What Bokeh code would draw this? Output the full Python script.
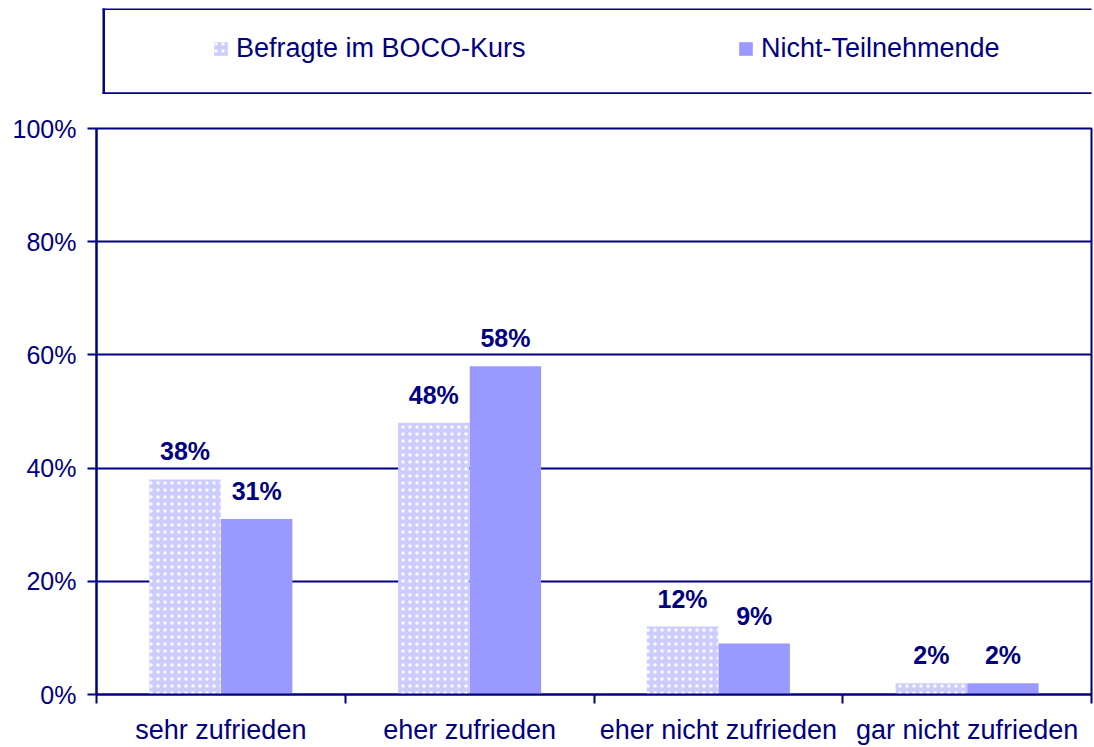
from bokeh.plotting import figure
from bokeh.models import (Range1d, FixedTicker, PrintfTickFormatter, ColumnDataSource,
                          LabelSet, Legend, LegendItem, BoxAnnotation)
from bokeh.core.properties import value
from bokeh.layouts import column
from bokeh.embed import file_html
from bokeh.resources import INLINE

categories = ["sehr zufrieden", "eher zufrieden", "eher nicht zufrieden", "gar nicht zufrieden"]
series_names = ["Befragte im BOCO-Kurs", "Nicht-Teilnehmende"]
boco = [38, 48, 12, 2]
nicht = [31, 58, 9, 2]
y_ticks = [0, 20, 40, 60, 80, 100]

NAVY = "#000080"
LIGHT = "#CCCCFF"
DARK = "#9999FF"
FONT = "Liberation Sans"

centers = [i + 0.5 for i in range(len(categories))]
dodge = 0.144
bw = 0.287

src1 = ColumnDataSource(dict(x=[c - dodge for c in centers], top=boco, lab=[f"{v}%" for v in boco]))
src2 = ColumnDataSource(dict(x=[c + dodge for c in centers], top=nicht, lab=[f"{v}%" for v in nicht]))

HATCH = dict(hatch_pattern="dot", hatch_color="white", hatch_scale=7, hatch_weight=1.2, hatch_alpha=0.9)

p = figure(width=1094, height=653, x_range=Range1d(0, len(categories)), y_range=Range1d(0, 100),
           output_backend="svg", toolbar_location=None,
           min_border_top=34, min_border_bottom=53, min_border_left=96, min_border_right=3)
p.background_fill_color = "white"
p.border_fill_color = "white"
p.outline_line_color = NAVY
p.outline_line_width = 2

p.vbar(x="x", top="top", width=bw, source=src1, fill_color=LIGHT, line_color=None, **HATCH)
p.vbar(x="x", top="top", width=bw, source=src2, fill_color=DARK, line_color=None)

for s in (src1, src2):
    p.add_layout(LabelSet(x="x", y="top", text="lab", source=s, y_offset=19,
                          text_align="center", text_baseline="alphabetic",
                          text_font=value(FONT), text_font_size="25px", text_font_style="bold",
                          text_color=NAVY))

p.xgrid.visible = False
p.ygrid.ticker = FixedTicker(ticks=y_ticks)
p.ygrid.grid_line_color = NAVY
p.ygrid.grid_line_width = 2

xa = p.xaxis[0]
xa.ticker = FixedTicker(ticks=centers, minor_ticks=list(range(len(categories) + 1)))
xa.major_label_overrides = {c: cat for c, cat in zip(centers, categories)}
xa.major_tick_line_color = None
xa.major_tick_out = 0
xa.major_tick_in = 0
xa.minor_tick_line_color = NAVY
xa.minor_tick_line_width = 2
xa.minor_tick_out = 9
xa.minor_tick_in = 0
xa.axis_line_color = NAVY
xa.axis_line_width = 2
xa.major_label_standoff = 11
xa.major_label_text_font = FONT
xa.major_label_text_font_size = "27px"
xa.major_label_text_color = NAVY

ya = p.yaxis[0]
ya.ticker = FixedTicker(ticks=y_ticks)
ya.formatter = PrintfTickFormatter(format="%d%%")
ya.major_tick_line_color = NAVY
ya.major_tick_line_width = 2
ya.major_tick_out = 9
ya.major_tick_in = 0
ya.minor_tick_line_color = None
ya.axis_line_color = NAVY
ya.axis_line_width = 2
ya.major_label_standoff = 11
ya.major_label_text_font = FONT
ya.major_label_text_font_size = "25px"
ya.major_label_text_color = NAVY

# legend box figure (frame aligned with the main plot; data units == pixels)
top = figure(width=1094, height=94, x_range=Range1d(0, 998), y_range=Range1d(0, 86),
             output_backend="svg", toolbar_location=None,
             min_border_top=8, min_border_bottom=0, min_border_left=96, min_border_right=0,
             x_axis_location=None, y_axis_location=None, outline_line_color=None)
top.grid.visible = False
top.background_fill_color = "white"
top.border_fill_color = "white"
for l, r, b, t in ((6, 1020, 84.5, 86.5), (6, 1020, 0.2, 2.2), (6, 8.5, 0.2, 86.5)):
    top.add_layout(BoxAnnotation(left=l, right=r, bottom=b, top=t, fill_color=NAVY, fill_alpha=1,
                                 line_color=None))

r1 = top.vbar(x=[-50], top=[0], width=1, fill_color=LIGHT, line_color=None, **HATCH)
r2 = top.vbar(x=[-50], top=[0], width=1, fill_color=DARK, line_color=None)

legend = Legend(items=[LegendItem(label=series_names[0], renderers=[r1]),
                       LegendItem(label=series_names[1], renderers=[r2])],
                orientation="horizontal", location=(116, 30), padding=0, margin=0,
                spacing=211, glyph_width=17, glyph_height=17, label_height=17, label_width=290,
                label_standoff=7, label_text_font=FONT, label_text_font_size="27px",
                label_text_color=NAVY, border_line_color=None, background_fill_alpha=0)
top.add_layout(legend)

layout = column(top, p, spacing=0)
open("out.html", "w").write(file_html(layout, INLINE))
